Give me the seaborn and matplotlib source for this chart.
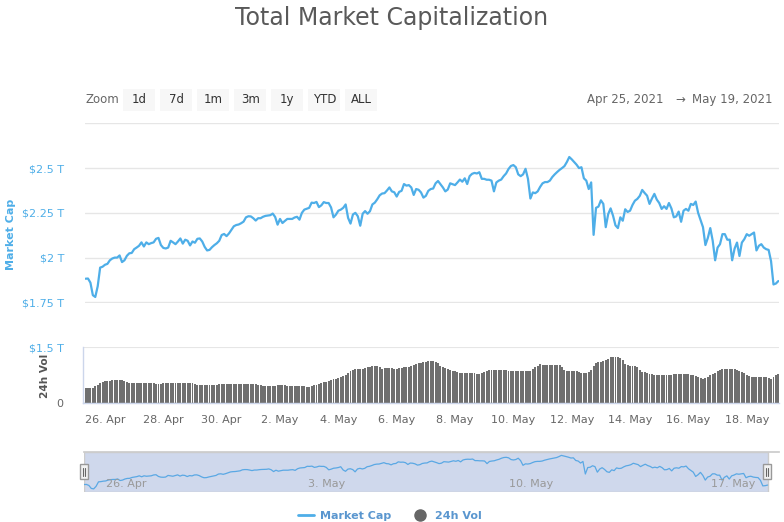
import matplotlib
matplotlib.use("Agg")
import matplotlib.pyplot as plt
import matplotlib.dates as mdates
from matplotlib.lines import Line2D
from matplotlib.patches import Rectangle
import pandas as pd
import seaborn as sns

sns.set_theme(style="white")
plt.rcParams["font.family"] = ["DejaVu Sans"]

# %% data (2-hourly, trillions USD)
dates = pd.date_range("2021-04-25 08:00", "2021-05-19 02:00", freq="2h")

market_cap_t = [
    1.882, 1.883, 1.86, 1.79, 1.78, 1.84, 1.944, 1.949,                       # 25 Apr
    1.96, 1.965, 1.985, 1.995, 2.0, 2.0, 2.012, 1.975, 1.985, 2.01, 2.024, 2.026,
    2.047, 2.056, 2.066, 2.085, 2.062, 2.085, 2.075, 2.081, 2.085, 2.105, 2.11, 2.07,
    2.054, 2.051, 2.056, 2.094, 2.085, 2.075, 2.09, 2.107, 2.078, 2.1, 2.094, 2.068,
    2.09, 2.083, 2.105, 2.107, 2.09, 2.06, 2.04, 2.043, 2.058, 2.07, 2.08, 2.094,
    2.126, 2.132, 2.12, 2.135, 2.155, 2.175, 2.182, 2.185, 2.192, 2.201, 2.225, 2.231,
    2.23, 2.22, 2.207, 2.22, 2.22, 2.228, 2.233, 2.235, 2.237, 2.246, 2.227, 2.184,  # 1 May
    2.216, 2.193, 2.205, 2.216, 2.216, 2.216, 2.224, 2.228, 2.212, 2.25, 2.268, 2.273,
    2.278, 2.307, 2.305, 2.311, 2.282, 2.292, 2.31, 2.305, 2.305, 2.28, 2.225, 2.24,
    2.262, 2.268, 2.278, 2.297, 2.222, 2.19, 2.241, 2.25, 2.231, 2.178, 2.245, 2.26,
    2.245, 2.259, 2.297, 2.307, 2.326, 2.348, 2.358, 2.36, 2.375, 2.392, 2.37, 2.365,
    2.341, 2.367, 2.373, 2.411, 2.402, 2.405, 2.392, 2.35, 2.383, 2.379, 2.364, 2.335,
    2.345, 2.373, 2.383, 2.386, 2.415, 2.428, 2.41, 2.392, 2.37, 2.38, 2.415, 2.41,
    2.405, 2.42, 2.436, 2.424, 2.443, 2.411, 2.455, 2.468, 2.473, 2.47, 2.477, 2.44,
    2.44, 2.435, 2.435, 2.43, 2.37, 2.42, 2.43, 2.436, 2.455, 2.47, 2.495, 2.512,
    2.517, 2.505, 2.465, 2.455, 2.465, 2.496, 2.44, 2.33, 2.364, 2.36, 2.37, 2.395,
    2.415, 2.422, 2.422, 2.43, 2.45, 2.465, 2.478, 2.49, 2.5, 2.511, 2.534, 2.562,
    2.549, 2.534, 2.519, 2.5, 2.505, 2.443, 2.43, 2.383, 2.42, 2.127, 2.278, 2.285,
    2.32, 2.3, 2.17, 2.243, 2.275, 2.234, 2.18, 2.165, 2.225, 2.206, 2.27, 2.255,
    2.262, 2.294, 2.318, 2.328, 2.345, 2.378, 2.361, 2.346, 2.3, 2.33, 2.356, 2.324,
    2.305, 2.272, 2.287, 2.272, 2.305, 2.275, 2.225, 2.23, 2.257, 2.2, 2.262, 2.272,
    2.262, 2.3, 2.294, 2.313, 2.25, 2.21, 2.17, 2.07, 2.11, 2.165, 2.094, 1.985,
    2.056, 2.075, 2.131, 2.131, 2.1, 2.1, 1.985, 2.05, 2.084, 2.009, 2.084, 2.103,
    2.131, 2.122, 2.131, 2.14, 2.04, 2.066, 2.075, 2.056, 2.047, 2.043, 1.98, 1.85,
    1.855, 1.869,                                                               # 19 May
]

volume_t = [
    0.386, 0.39, 0.395, 0.40, 0.44, 0.49, 0.536, 0.56,
    0.575, 0.58, 0.59, 0.60, 0.60, 0.60, 0.607, 0.60, 0.58, 0.55, 0.54, 0.536,
    0.536, 0.536, 0.536, 0.536, 0.536, 0.536, 0.536, 0.53, 0.52, 0.50, 0.50, 0.51,
    0.52, 0.536, 0.536, 0.53, 0.52, 0.52, 0.52, 0.52, 0.525, 0.53, 0.536, 0.536,
    0.52, 0.50, 0.49, 0.49, 0.49, 0.49, 0.49, 0.485, 0.485, 0.485, 0.49, 0.495,
    0.50, 0.50, 0.50, 0.50, 0.50, 0.50, 0.50, 0.50, 0.50, 0.50, 0.50, 0.50,
    0.50, 0.50, 0.50, 0.49, 0.47, 0.455, 0.455, 0.455, 0.455, 0.455, 0.46, 0.465,
    0.47, 0.47, 0.465, 0.46, 0.455, 0.455, 0.455, 0.455, 0.45, 0.445, 0.44, 0.43,
    0.43, 0.45, 0.47, 0.49, 0.51, 0.53, 0.55, 0.57, 0.59, 0.61, 0.63, 0.65,
    0.67, 0.69, 0.715, 0.76, 0.80, 0.85, 0.89, 0.92, 0.92, 0.92, 0.92, 0.925,
    0.95, 0.97, 0.98, 0.98, 0.98, 0.96, 0.92, 0.93, 0.94, 0.94, 0.93, 0.92,
    0.92, 0.93, 0.94, 0.95, 0.96, 0.97, 1.0, 1.03, 1.05, 1.06, 1.08, 1.10,
    1.11, 1.12, 1.125, 1.12, 1.10, 1.06, 1.0, 0.964, 0.94, 0.90, 0.87, 0.86,
    0.85, 0.83, 0.81, 0.80, 0.80, 0.80, 0.80, 0.80, 0.79, 0.78, 0.768, 0.79,
    0.83, 0.857, 0.87, 0.88, 0.89, 0.893, 0.89, 0.88, 0.875, 0.87, 0.865, 0.86,
    0.857, 0.857, 0.857, 0.857, 0.857, 0.857, 0.857, 0.86, 0.90, 0.96, 1.0, 1.036,
    1.03, 1.02, 1.01, 1.01, 1.01, 1.01, 1.01, 1.01, 0.95, 0.87, 0.857, 0.857,
    0.857, 0.857, 0.85, 0.83, 0.81, 0.80, 0.80, 0.83, 0.875, 0.98, 1.08, 1.09,
    1.10, 1.12, 1.14, 1.18, 1.232, 1.232, 1.232, 1.23, 1.20, 1.15, 1.05, 1.01,
    1.0, 0.99, 0.98, 0.95, 0.87, 0.84, 0.82, 0.80, 0.77, 0.765, 0.76, 0.75,
    0.745, 0.74, 0.74, 0.745, 0.75, 0.76, 0.768, 0.77, 0.775, 0.78, 0.785, 0.786,
    0.78, 0.76, 0.74, 0.72, 0.69, 0.66, 0.652, 0.66, 0.69, 0.74, 0.77, 0.80,
    0.85, 0.89, 0.92, 0.92, 0.92, 0.92, 0.92, 0.91, 0.88, 0.85, 0.82, 0.80,
    0.75, 0.714, 0.70, 0.70, 0.70, 0.70, 0.70, 0.70, 0.69, 0.67, 0.652, 0.70,
    0.76, 0.786,
]

cap_ticks = [1.75, 2.0, 2.25, 2.5, 2.75]
cap_labels = ["$1.75 T", "$2 T", "$2.25 T", "$2.5 T", ""]
vol_ticks = [0, 1.5]
vol_labels = ["0", "$1.5 T"]
day_ticks = pd.date_range("2021-04-26", "2021-05-18", freq="2D")
week_ticks = pd.date_range("2021-04-26", "2021-05-17", freq="7D")
zoom_buttons = ["1d", "7d", "1m", "3m", "1y", "YTD", "ALL"]

# %% layout helpers (pixel based)
W, H = 784, 522
BLUE = "#4eaee8"
GRID = "#e6e6e6"
AXIS = "#ccd6eb"


def box(l, t, r, b):
    return [l / W, 1 - b / H, (r - l) / W, (b - t) / H]


def main_x(px):
    return pd.Timestamp("2021-04-26") + pd.Timedelta(days=(px - 105) / 29.17)


def nav_x(px):
    return pd.Timestamp("2021-04-25") + pd.Timedelta(days=(px - 74.5) / 28.78)


fig = plt.figure(figsize=(W / 100, H / 100), dpi=100)
fig.patch.set_facecolor("white")

ax = fig.add_axes(box(85, 123.0, 779, 302.7))
axv = fig.add_axes(box(83, 346.7, 779, 402.7))
axn = fig.add_axes(box(84, 452.3, 779, 492.3))

# %% main panel
sns.lineplot(x=dates, y=market_cap_t, ax=ax, color=BLUE, linewidth=1.6)
ax.set_xlim(main_x(85), main_x(779))
ax.set_ylim(1.748, 2.752)
ax.set_yticks(cap_ticks)
ax.set_yticklabels([s.replace("$", r"\$") for s in cap_labels])
ax.tick_params(axis="y", length=0, pad=15, labelsize=8, labelcolor=BLUE)
ax.tick_params(axis="x", bottom=False, labelbottom=False)
ax.grid(axis="y", color=GRID, linewidth=1)
ax.grid(axis="x", visible=False)
ax.set(xlabel="", ylabel="")
for s in ax.spines.values():
    s.set_visible(False)

# %% volume panel
axv.bar(dates, volume_t, width=2 / 24 * 0.8, color="#6f6f6f", linewidth=0)
axv.set_xlim(main_x(83), main_x(779))
axv.set_ylim(0, 1.51)
axv.set_yticks(vol_ticks)
axv.set_yticklabels([s.replace("$", r"\$") for s in vol_labels])
axv.tick_params(axis="y", length=0, pad=14, labelsize=8)
axv.get_yticklabels()[0].set_color("#666666")
axv.get_yticklabels()[1].set_color(BLUE)
axv.set_xticks(day_ticks)
axv.xaxis.set_major_formatter(mdates.DateFormatter("%-d. %b"))
axv.tick_params(axis="x", length=7, width=1, color=AXIS, labelsize=8,
                labelcolor="#666666", pad=2)
axv.grid(axis="y", color=GRID, linewidth=1.5)
axv.set_axisbelow(True)
for side in ["top", "right"]:
    axv.spines[side].set_visible(False)
for side in ["left", "bottom"]:
    axv.spines[side].set_color(AXIS)
    axv.spines[side].set_linewidth(1)

# %% navigator
axn.axvspan(dates[0], dates[-1], facecolor="#cfd8ec", edgecolor="#cccccc", linewidth=1)
sns.lineplot(x=dates, y=market_cap_t, ax=axn, color="#5aa8e4", linewidth=0.9)
axn.set_xlim(nav_x(84), nav_x(779))
axn.set_ylim(1.70, 2.634)
axn.set_yticks([])
axn.set_xticks(week_ticks)
axn.tick_params(axis="x", bottom=False, labelbottom=False)
axn.grid(axis="x", color="#b7c3dc", linewidth=1)
axn.set(xlabel="", ylabel="")
for side in ["left", "right", "bottom"]:
    axn.spines[side].set_visible(False)
axn.spines["top"].set_color("#cccccc")
for d in week_ticks:
    axn.annotate(d.strftime("%-d. %b"), xy=(d, 0), xycoords=("data", "axes fraction"),
                 xytext=(2.3, 5.8), textcoords="offset points", ha="left", va="center",
                 fontsize=8, color="#999999")

for cx in [84, 766.7]:
    fig.add_artist(Rectangle(((cx - 4) / W, 1 - 479 / H), 8 / W, 15 / H,
                             transform=fig.transFigure, facecolor="#f2f2f2",
                             edgecolor="#999999", linewidth=1))
    for dx in [-1.2, 1.2]:
        fig.add_artist(Line2D([(cx + dx) / W] * 2, [1 - 475.5 / H, 1 - 467.5 / H],
                              transform=fig.transFigure, color="#666666", linewidth=0.8))

# %% header texts
fig.text(392 / W, 1 - 18 / H, "Total Market Capitalization", ha="center", va="center",
         fontsize=17, color="#595959")
fig.text(85 / W, 1 - 99.5 / H, "Zoom", ha="left", va="center", fontsize=8.5, color="#666666")
for i, label in enumerate(zoom_buttons):
    left = 123.3 + i * 37
    fig.add_artist(Rectangle((left / W, 1 - 110.7 / H), 32 / W, 21.4 / H,
                             transform=fig.transFigure, facecolor="#f7f7f7",
                             edgecolor="none"))
    fig.text((left + 16) / W, 1 - 99.5 / H, label, ha="center", va="center",
             fontsize=8.5, color="#333333")

fig.text(587 / W, 1 - 99 / H, dates[0].strftime("%b %d, %Y"), ha="left", va="center",
         fontsize=8.5, color="#666666")
fig.text(680 / W, 1 - 99 / H, "\u2192", ha="center", va="center", fontsize=8.5,
         color="#666666")
fig.text(773 / W, 1 - 99 / H, dates[-1].strftime("%b %d, %Y"), ha="right", va="center",
         fontsize=8.5, color="#666666")

fig.text(11 / W, 1 - 234.7 / H, "Market Cap", rotation=90, ha="center", va="center",
         fontsize=8, fontweight="bold", color=BLUE)
fig.text(45 / W, 1 - 376 / H, "24h Vol", rotation=90, ha="center", va="center",
         fontsize=7.6, fontweight="bold", color="#555555")

# %% legend
handles = [
    Line2D([], [], color=BLUE, linewidth=2),
    Line2D([], [], marker="o", color="none", markerfacecolor="#666666",
           markeredgecolor="#666666", markersize=8),
]
fig.legend(handles, ["Market Cap", "24h Vol"], loc="center",
           bbox_to_anchor=(389.5 / W, 1 - 516 / H), ncol=2, frameon=False,
           prop={"weight": "bold", "size": 8}, labelcolor="#5a96cf",
           handlelength=1.45, handletextpad=0.55, columnspacing=1.9)

fig.savefig("out.png", dpi=100, facecolor="white")
